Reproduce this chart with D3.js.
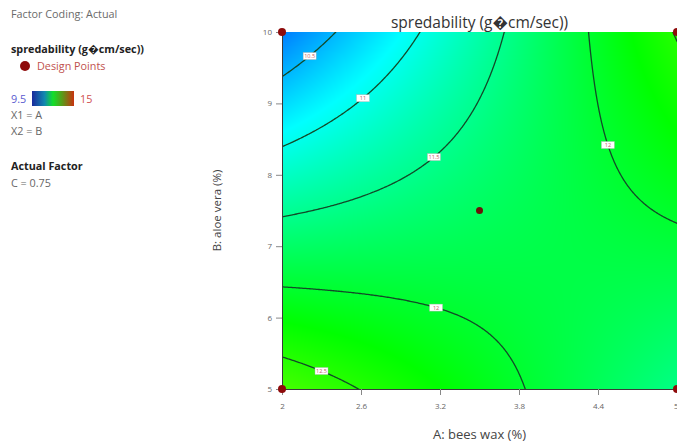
<!DOCTYPE html>
<html>
<head>
<meta charset="utf-8">
<script src="https://cdn.jsdelivr.net/npm/d3@7"></script>
<style>
  body { margin: 0; background: #fff; }
  svg { display: block; font-family: "Open Sans", "Noto Sans", sans-serif; }
</style>
</head>
<body>
<div id="chart"></div>
<script>
// response surface model (coded units), C held at 0.75
const terms = ["Intercept", "A", "B", "AB", "A²", "B²"];
const coefs = [11.745, 0.29, -0.392, 0.882, 0, 0];

const factorA = [2, 5];   // bees wax (%)
const factorB = [5, 10];  // aloe vera (%)
const xTicks = [2, 2.6, 3.2, 3.8, 4.4, 5];
const yTicks = [5, 6, 7, 8, 9, 10];

const levels = [10.5, 11, 11.5, 12, 12.5];
const labelLevel = [10.5, 11, 11.5, 12, 12, 12.5];
const labelA = [2.21, 2.615, 3.154, 4.475, 3.17, 2.3];

const designA = [2, 5, 2, 5, 3.5];
const designB = [10, 10, 5, 5, 7.5];

const colorDomain = [9.5, 10.9, 12.25, 14, 15];
const colorRange = ["#0000ff", "#00ffff", "#00ff00", "#ffff00", "#ff0000"];

const titleText = "spredability (g\uFFFDcm/sec))";

const W = 677, H = 444;
const margin = { top: 32, right: 0, bottom: 55, left: 282 };
const pw = W - margin.left - margin.right;
const ph = H - margin.top - margin.bottom;

function model(A, B) {
  const a = (A - 3.5) / 1.5, b = (B - 7.5) / 2.5;
  return coefs[0] + coefs[1] * a + coefs[2] * b + coefs[3] * a * b +
    coefs[4] * a * a + coefs[5] * b * b;
}

const x = d3.scaleLinear().domain(factorA).range([0, pw]);
const y = d3.scaleLinear().domain(factorB).range([ph, 0]);
const color = d3.scaleLinear().domain(colorDomain).range(colorRange).clamp(true);

const svg = d3.select("#chart").append("svg").attr("width", W).attr("height", H);

// ---- left info panel ----
const info = svg.append("g").attr("font-size", 10.8);
info.append("text").attr("x", 11).attr("y", 18).attr("fill", "#6a6a6a").text("Factor Coding: Actual");
info.append("text").attr("x", 11).attr("y", 53).attr("fill", "#222").attr("font-weight", "bold").text(titleText);
info.append("circle").attr("cx", 25).attr("cy", 66).attr("r", 5).attr("fill", "#8e0b0b");
info.append("text").attr("x", 37).attr("y", 70).attr("fill", "#c0504d").text("Design Points");

const defs = svg.append("defs");
const lg = defs.append("linearGradient").attr("id", "leg");
[["0%", "#1a2a9c"], ["30%", "#1188b0"], ["50%", "#12df2a"], ["72%", "#5a9a18"], ["100%", "#c8320f"]]
  .forEach(s => lg.append("stop").attr("offset", s[0]).attr("stop-color", s[1]));
info.append("text").attr("x", 11).attr("y", 103).attr("fill", "#5a5ad0").text("9.5");
info.append("rect").attr("x", 32).attr("y", 91).attr("width", 42).attr("height", 15).attr("fill", "url(#leg)");
info.append("text").attr("x", 80).attr("y", 103).attr("fill", "#d05050").text("15");
info.append("text").attr("x", 11).attr("y", 119).attr("fill", "#666").text("X1 = A");
info.append("text").attr("x", 11).attr("y", 135).attr("fill", "#666").text("X2 = B");
info.append("text").attr("x", 11).attr("y", 170).attr("fill", "#222").attr("font-weight", "bold").text("Actual Factor");
info.append("text").attr("x", 11).attr("y", 187).attr("fill", "#666").text("C = 0.75");

// ---- plot ----
const g = svg.append("g").attr("transform", `translate(${margin.left},${margin.top})`);

defs.append("clipPath").attr("id", "plotclip")
  .append("rect").attr("width", pw).attr("height", ph);

// colored surface
const canvas = document.createElement("canvas");
canvas.width = pw; canvas.height = ph;
const ctx = canvas.getContext("2d");
const img = ctx.createImageData(pw, ph);
for (let j = 0; j < ph; j++) {
  for (let i = 0; i < pw; i++) {
    const c = d3.rgb(color(model(x.invert(i + 0.5), y.invert(j + 0.5))));
    const k = (j * pw + i) * 4;
    img.data[k] = c.r; img.data[k + 1] = c.g; img.data[k + 2] = c.b; img.data[k + 3] = 255;
  }
}
ctx.putImageData(img, 0, 0);
g.append("image").attr("width", pw).attr("height", ph)
  .attr("preserveAspectRatio", "none")
  .attr("href", canvas.toDataURL());

// contour lines
const nx = 300, ny = 300;
const gx = d3.scaleLinear().domain([0.5, nx - 0.5]).range([0, pw]);
const gy = d3.scaleLinear().domain([0.5, ny - 0.5]).range([0, ph]);
const values = new Array(nx * ny);
for (let j = 0; j < ny; j++) {
  for (let i = 0; i < nx; i++) {
    values[j * nx + i] = model(x.invert(gx(i + 0.5)), y.invert(gy(j + 0.5)));
  }
}
const contours = d3.contours().size([nx, ny]).thresholds(levels)(values);
const path = d3.geoPath(d3.geoTransform({
  point(px, py) { this.stream.point(gx(px), gy(py)); }
}));
g.append("g").attr("clip-path", "url(#plotclip)")
  .selectAll("path").data(contours).join("path")
  .attr("d", path)
  .attr("fill", "none")
  .attr("stroke", "#124a28")
  .attr("stroke-width", 1.3);

// contour labels
const fmt = d3.format("~g");
const labels = labelA.map((A, i) => {
  const L = labelLevel[i];
  const bs = d3.range(0, 1001).map(k => factorB[0] + (factorB[1] - factorB[0]) * k / 1000);
  let B = bs[0];
  for (let k = 1; k < bs.length; k++) {
    const f0 = model(A, bs[k - 1]) - L, f1 = model(A, bs[k]) - L;
    if (f0 * f1 <= 0) { B = bs[k - 1] + (bs[k] - bs[k - 1]) * f0 / (f0 - f1); break; }
  }
  return { A, B, L };
});
const lab = g.append("g").selectAll("g").data(labels).join("g")
  .attr("transform", d => `translate(${x(d.A)},${y(d.B)})`);
lab.append("rect").attr("x", -6.5).attr("y", -3.5).attr("width", 13).attr("height", 7)
  .attr("fill", "#fff").attr("stroke", "#b0b0b0").attr("stroke-width", 0.4);
lab.append("text").attr("text-anchor", "middle").attr("y", 2).attr("font-size", 5.5)
  .attr("fill", "#c06060").text(d => fmt(d.L));

// axes
const xAxis = g.append("g").attr("transform", `translate(0,${ph})`)
  .call(d3.axisBottom(x).tickValues(xTicks).tickFormat(fmt).tickSizeOuter(0).tickSizeInner(6).tickPadding(8));
const yAxis = g.append("g")
  .call(d3.axisLeft(y).tickValues(yTicks).tickFormat(fmt).tickSizeOuter(0).tickSizeInner(6).tickPadding(4));
[xAxis, yAxis].forEach(ax => {
  ax.selectAll(".domain").attr("stroke", "#3a3a3a");
  ax.selectAll(".tick line").attr("stroke", "#888");
  ax.selectAll(".tick text").attr("fill", "#666").attr("font-size", 8).attr("font-family", "Open Sans, sans-serif");
});
// last x label sits on the window edge: keep it inside
xAxis.selectAll(".tick text").filter(d => d === factorA[1]).attr("text-anchor", "end").attr("dx", 1);

// design points
g.append("g").selectAll("circle").data(designA).join("circle")
  .attr("cx", (d, i) => x(d))
  .attr("cy", (d, i) => y(designB[i]))
  .attr("r", (d, i) => i === 4 ? 3.5 : 4)
  .attr("fill", (d, i) => i === 4 ? "#6a1408" : "#8e0b0b");

// titles
svg.append("text").attr("x", margin.left + pw / 2).attr("y", 28)
  .attr("text-anchor", "middle").attr("font-size", 15.5).attr("fill", "#333").text(titleText);
svg.append("text").attr("x", margin.left + pw / 2).attr("y", 439)
  .attr("text-anchor", "middle").attr("font-size", 13).attr("fill", "#444").text("A: bees wax (%)");
svg.append("text")
  .attr("transform", `translate(221,${margin.top + ph / 2}) rotate(-90)`)
  .attr("text-anchor", "middle").attr("font-size", 11.5).attr("fill", "#444").text("B: aloe vera (%)");
</script>
</body>
</html>
